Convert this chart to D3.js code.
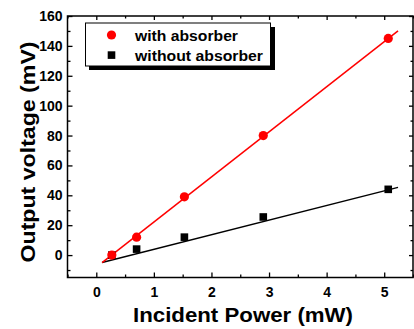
<!DOCTYPE html>
<html><head><meta charset="utf-8">
<script src="https://cdn.jsdelivr.net/npm/d3@7"></script>
<style>body{margin:0;background:#fff}svg{display:block;font-family:"Liberation Sans",Arial,sans-serif}</style>
</head><body><svg id="c" width="414" height="329"></svg>
<script>
const powerX = [0.27, 0.70, 1.53, 2.90, 5.07];
const withAbsorber = [0, 12, 39, 80, 145];
const withoutAbsorber = [0, 4, 12, 25.5, 44];
const fitX = [0.1, 5.24];
const fitWith = [-5, 150];
const fitWithout = [-5, 45.3];
const xTicks = [0, 1, 2, 3, 4, 5];
const yTicks = [0, 20, 40, 60, 80, 100, 120, 140, 160];
const seriesNames = ["with absorber", "without absorber"];

const svg = d3.select("#c");
const L = 67.5, R = 413, T = 16, B = 277.5;
const x = d3.scaleLinear().domain([-0.5, 5.5]).range([L, R]);
const y = d3.scaleLinear().domain([-15, 160]).range([B, T]);

const xMinor = d3.range(-0.5, 5.51, 0.5).filter(v => Math.abs(v - Math.round(v)) > 0.01);
const yMinor = d3.range(-10, 161, 10).filter(v => v % 20 !== 0);

function axisStyle(g){ g.select(".domain").remove(); g.selectAll("line").attr("stroke","#000").attr("stroke-width",1.3); }
function labelStyle(g){ g.selectAll("text").attr("font-size",14).attr("font-weight","bold").attr("fill","#000").attr("font-family","Liberation Sans, Arial"); }

// bottom
svg.append("g").attr("transform",`translate(0,${B})`)
  .call(d3.axisBottom(x).tickValues(xTicks).tickSizeInner(-5).tickSizeOuter(0).tickPadding(9.5).tickFormat(d3.format("d")))
  .call(axisStyle).call(labelStyle);
svg.append("g").attr("transform",`translate(0,${B})`)
  .call(d3.axisBottom(x).tickValues(xMinor).tickSize(-3).tickFormat(""))
  .call(axisStyle);
// top
svg.append("g").attr("transform",`translate(0,${T})`)
  .call(d3.axisTop(x).tickValues(xTicks).tickSize(-4).tickFormat("")).call(axisStyle);
svg.append("g").attr("transform",`translate(0,${T})`)
  .call(d3.axisTop(x).tickValues(xMinor).tickSize(-2.5).tickFormat("")).call(axisStyle);
// left
svg.append("g").attr("transform",`translate(${L},0)`)
  .call(d3.axisLeft(y).tickValues(yTicks).tickSizeInner(-5).tickSizeOuter(0).tickPadding(5).tickFormat(d3.format("d")))
  .call(axisStyle).call(labelStyle);
svg.append("g").attr("transform",`translate(${L},0)`)
  .call(d3.axisLeft(y).tickValues(yMinor).tickSize(-3).tickFormat("")).call(axisStyle);
// right
svg.append("g").attr("transform",`translate(${R},0)`)
  .call(d3.axisRight(y).tickValues(yTicks).tickSize(-4).tickFormat("")).call(axisStyle);
svg.append("g").attr("transform",`translate(${R},0)`)
  .call(d3.axisRight(y).tickValues(yMinor).tickSize(-2.5).tickFormat("")).call(axisStyle);

svg.append("rect").attr("x",L).attr("y",T).attr("width",R-L).attr("height",B-T)
  .attr("fill","none").attr("stroke","#000").attr("stroke-width",1.5);

// fit lines
const line = d3.line().x(d=>x(d[0])).y(d=>y(d[1]));
svg.append("path").datum(fitX.map((v,i)=>[v,fitWithout[i]])).attr("d",line)
  .attr("stroke","#000").attr("stroke-width",1.5).attr("fill","none");
svg.append("path").datum(fitX.map((v,i)=>[v,fitWith[i]])).attr("d",line)
  .attr("stroke","#ff0000").attr("stroke-width",1.5).attr("fill","none");

// markers
svg.append("g").selectAll("rect").data(powerX.map((v,i)=>[v,withoutAbsorber[i]])).join("rect")
  .attr("x",d=>x(d[0])-3.8).attr("y",d=>y(d[1])-3.8).attr("width",7.6).attr("height",7.6).attr("fill","#000");
svg.append("g").selectAll("circle").data(powerX.map((v,i)=>[v,withAbsorber[i]])).join("circle")
  .attr("cx",d=>x(d[0])).attr("cy",d=>y(d[1])).attr("r",4.6).attr("fill","#ff0000");

// legend
const lg = svg.append("g");
lg.append("rect").attr("x",89).attr("y",27).attr("width",186).attr("height",43).attr("fill","#000");
lg.append("rect").attr("x",85.5).attr("y",23).attr("width",185).attr("height",43).attr("fill","#fff").attr("stroke","#000").attr("stroke-width",1);
lg.append("circle").attr("cx",111.5).attr("cy",35).attr("r",4.6).attr("fill","#ff0000");
lg.append("rect").attr("x",107.7).attr("y",51.3).attr("width",7.6).attr("height",7.6).attr("fill","#000");
const legLen = [103, 128];
lg.selectAll("text").data(seriesNames).join("text")
  .attr("x",135).attr("y",(d,i)=>40.7+i*20).attr("font-size",15.5).attr("font-weight","bold")
  .attr("textLength",(d,i)=>legLen[i]).attr("lengthAdjust","spacingAndGlyphs").text(d=>d);

// titles
svg.append("text").attr("x",243).attr("y",322).attr("text-anchor","middle")
  .attr("font-size",20).attr("font-weight","bold")
  .attr("textLength",220).attr("lengthAdjust","spacingAndGlyphs").text("Incident Power (mW)");
svg.append("text").attr("transform",`translate(34.5,152) rotate(-90)`).attr("text-anchor","middle")
  .attr("font-size",20).attr("font-weight","bold")
  .attr("textLength",221).attr("lengthAdjust","spacingAndGlyphs").text("Output voltage (mV)");
</script></body></html>
